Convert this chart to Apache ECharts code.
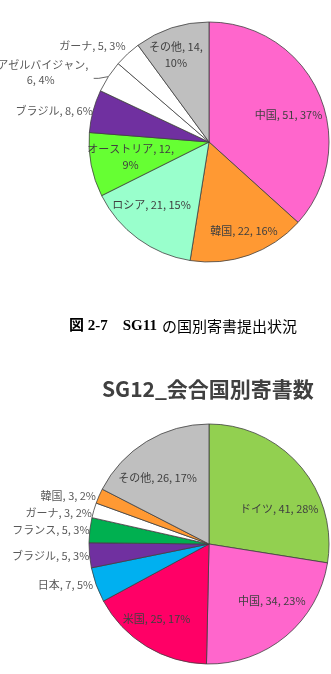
<!DOCTYPE html>
<html>
<head>
<meta charset="utf-8">
<script src="https://cdn.jsdelivr.net/npm/echarts@6/dist/echarts.min.js"></script>
<style>
  html, body { margin: 0; padding: 0; background: #fff; }
  #chart { width: 331px; height: 674px; }
</style>
</head>
<body>
<div id="chart"></div>
<script>
// SG11 pie
const names1 = ["中国", "韓国", "ロシア", "オーストリア", "ブラジル", "アゼルバイジャン", "ガーナ", "その他"];
const values1 = [51, 22, 21, 12, 8, 6, 5, 14];
const colors1 = ["#ff66cc", "#ff9933", "#99ffcc", "#66ff33", "#7030a0", "#ffffff", "#ffffff", "#bfbfbf"];
const inside1 = [true, true, true, true, false, false, false, true];

// SG12 pie
const names2 = ["ドイツ", "中国", "米国", "日本", "ブラジル", "フランス", "ガーナ", "韓国", "その他"];
const values2 = [41, 34, 25, 7, 5, 5, 3, 3, 26];
const colors2 = ["#92d050", "#ff66cc", "#ff0066", "#00b0f0", "#7030a0", "#00b050", "#ffffff", "#ff9933", "#bfbfbf"];
const inside2 = [true, true, true, false, false, false, false, false, true];

const caption = "図 2-7　SG11";
const captionRest = "の国別寄書提出状況";
const title2 = "SG12_会合国別寄書数";

// where the label text wraps (as in the source sheet)
const wraps = {
  "オーストリア": "{b}, {c},\n{d}%",
  "その他|1": "{b}, {c},\n{d}%",
  "アゼルバイジャン": "{w1|{b}, }\n{w2|{c}, {d}%}",
};
const lineLen = { "アゼルバイジャン": [12, 5] };
// excel "best fit" puts labels a bit off where echarts would
const nudge = {
  "中国|1": [0, 8], "韓国|1": [6, 7], "ロシア|1": [-6, -7], "オーストリア|1": [7, -2], "その他|1": [-6, -5],
  "ガーナ|1": [1, -8], "アゼルバイジャン|1": [0, -6],
  "ドイツ|2": [4, 21], "中国|2": [7, -10], "米国|2": [-7, 1], "その他|2": [-6, 8],
};

const R = 120;
const font = "'Noto Sans CJK JP', 'Noto Sans', sans-serif";

function key(name, idx, obj) {
  return obj[name + "|" + idx] || obj[name];
}

function pieSeries(names, values, colors, inside, center, idx) {
  const base = {
    type: "pie",
    center: center,
    startAngle: 90,
    percentPrecision: 0,
    animation: false,
    silent: true,
    labelLayout: (p) => {
      const o = key(names[p.dataIndex], idx, nudge);
      return o ? { dx: o[0], dy: o[1] } : {};
    },
  };
  const main = Object.assign({}, base, {
    radius: [0, R],
    itemStyle: { borderColor: "#404040", borderWidth: 0.8 },
    label: {
      position: "outside",
      fontFamily: font,
      fontSize: 11,
      color: "#595959",
      lineHeight: 15,
      width: 100,
      distanceToLabelLine: 3,
      rich: {
        w1: { fontFamily: font, fontSize: 11, color: "#595959", width: 96, align: "right", lineHeight: 15 },
        w2: { fontFamily: font, fontSize: 11, color: "#595959", width: 96, align: "center", lineHeight: 15 },
      },
    },
    labelLine: { length: 0, length2: 0, lineStyle: { color: "#404040", width: 0.8 } },
    data: names.map((n, i) => {
      const ll = key(n, idx, lineLen);
      return {
        name: n,
        value: values[i],
        itemStyle: { color: colors[i] },
        label: inside[i] ? { show: false } : { show: true, formatter: key(n, idx, wraps) || "{b}, {c}, {d}%" },
        labelLine: ll ? { show: true, length: ll[0], length2: ll[1] } : { show: false, length: 0, length2: 0 },
      };
    }),
  });
  // transparent ring just to carry the inside labels further out
  const overlay = Object.assign({}, base, {
    radius: [R * 0.4, R],
    itemStyle: { color: "transparent", borderWidth: 0 },
    label: {
      position: "inside",
      fontFamily: font,
      fontSize: 11,
      color: "#404040",
      lineHeight: 16,
    },
    labelLine: { show: false },
    data: names.map((n, i) => ({
      name: n,
      value: values[i],
      label: inside[i] ? { show: true, formatter: key(n, idx, wraps) || "{b}, {c}, {d}%" } : { show: false },
    })),
  });
  return [main, overlay];
}

const chart = echarts.init(document.getElementById("chart"));
chart.setOption({
  title: [
    {
      text: "{b|" + caption + "} {n|" + captionRest + "}",
      left: 64,
      top: 312,
      textStyle: {
        rich: {
          b: { fontFamily: "'Liberation Serif', 'Noto Sans CJK JP', serif", fontWeight: "bold", fontSize: 15, color: "#000" },
          n: { fontFamily: "'Noto Sans CJK JP', serif", fontWeight: "normal", fontSize: 15, color: "#000" },
        },
      },
    },
    {
      text: title2,
      left: 97,
      top: 374,
      textStyle: { fontFamily: font, fontWeight: "bold", fontSize: 21, color: "#404040" },
    },
  ],
  series: [
    ...pieSeries(names1, values1, colors1, inside1, [209, 142], 1),
    ...pieSeries(names2, values2, colors2, inside2, [209, 544], 2),
  ],
});

window.addEventListener("resize", () => chart && chart.resize());
</script>
</body>
</html>
